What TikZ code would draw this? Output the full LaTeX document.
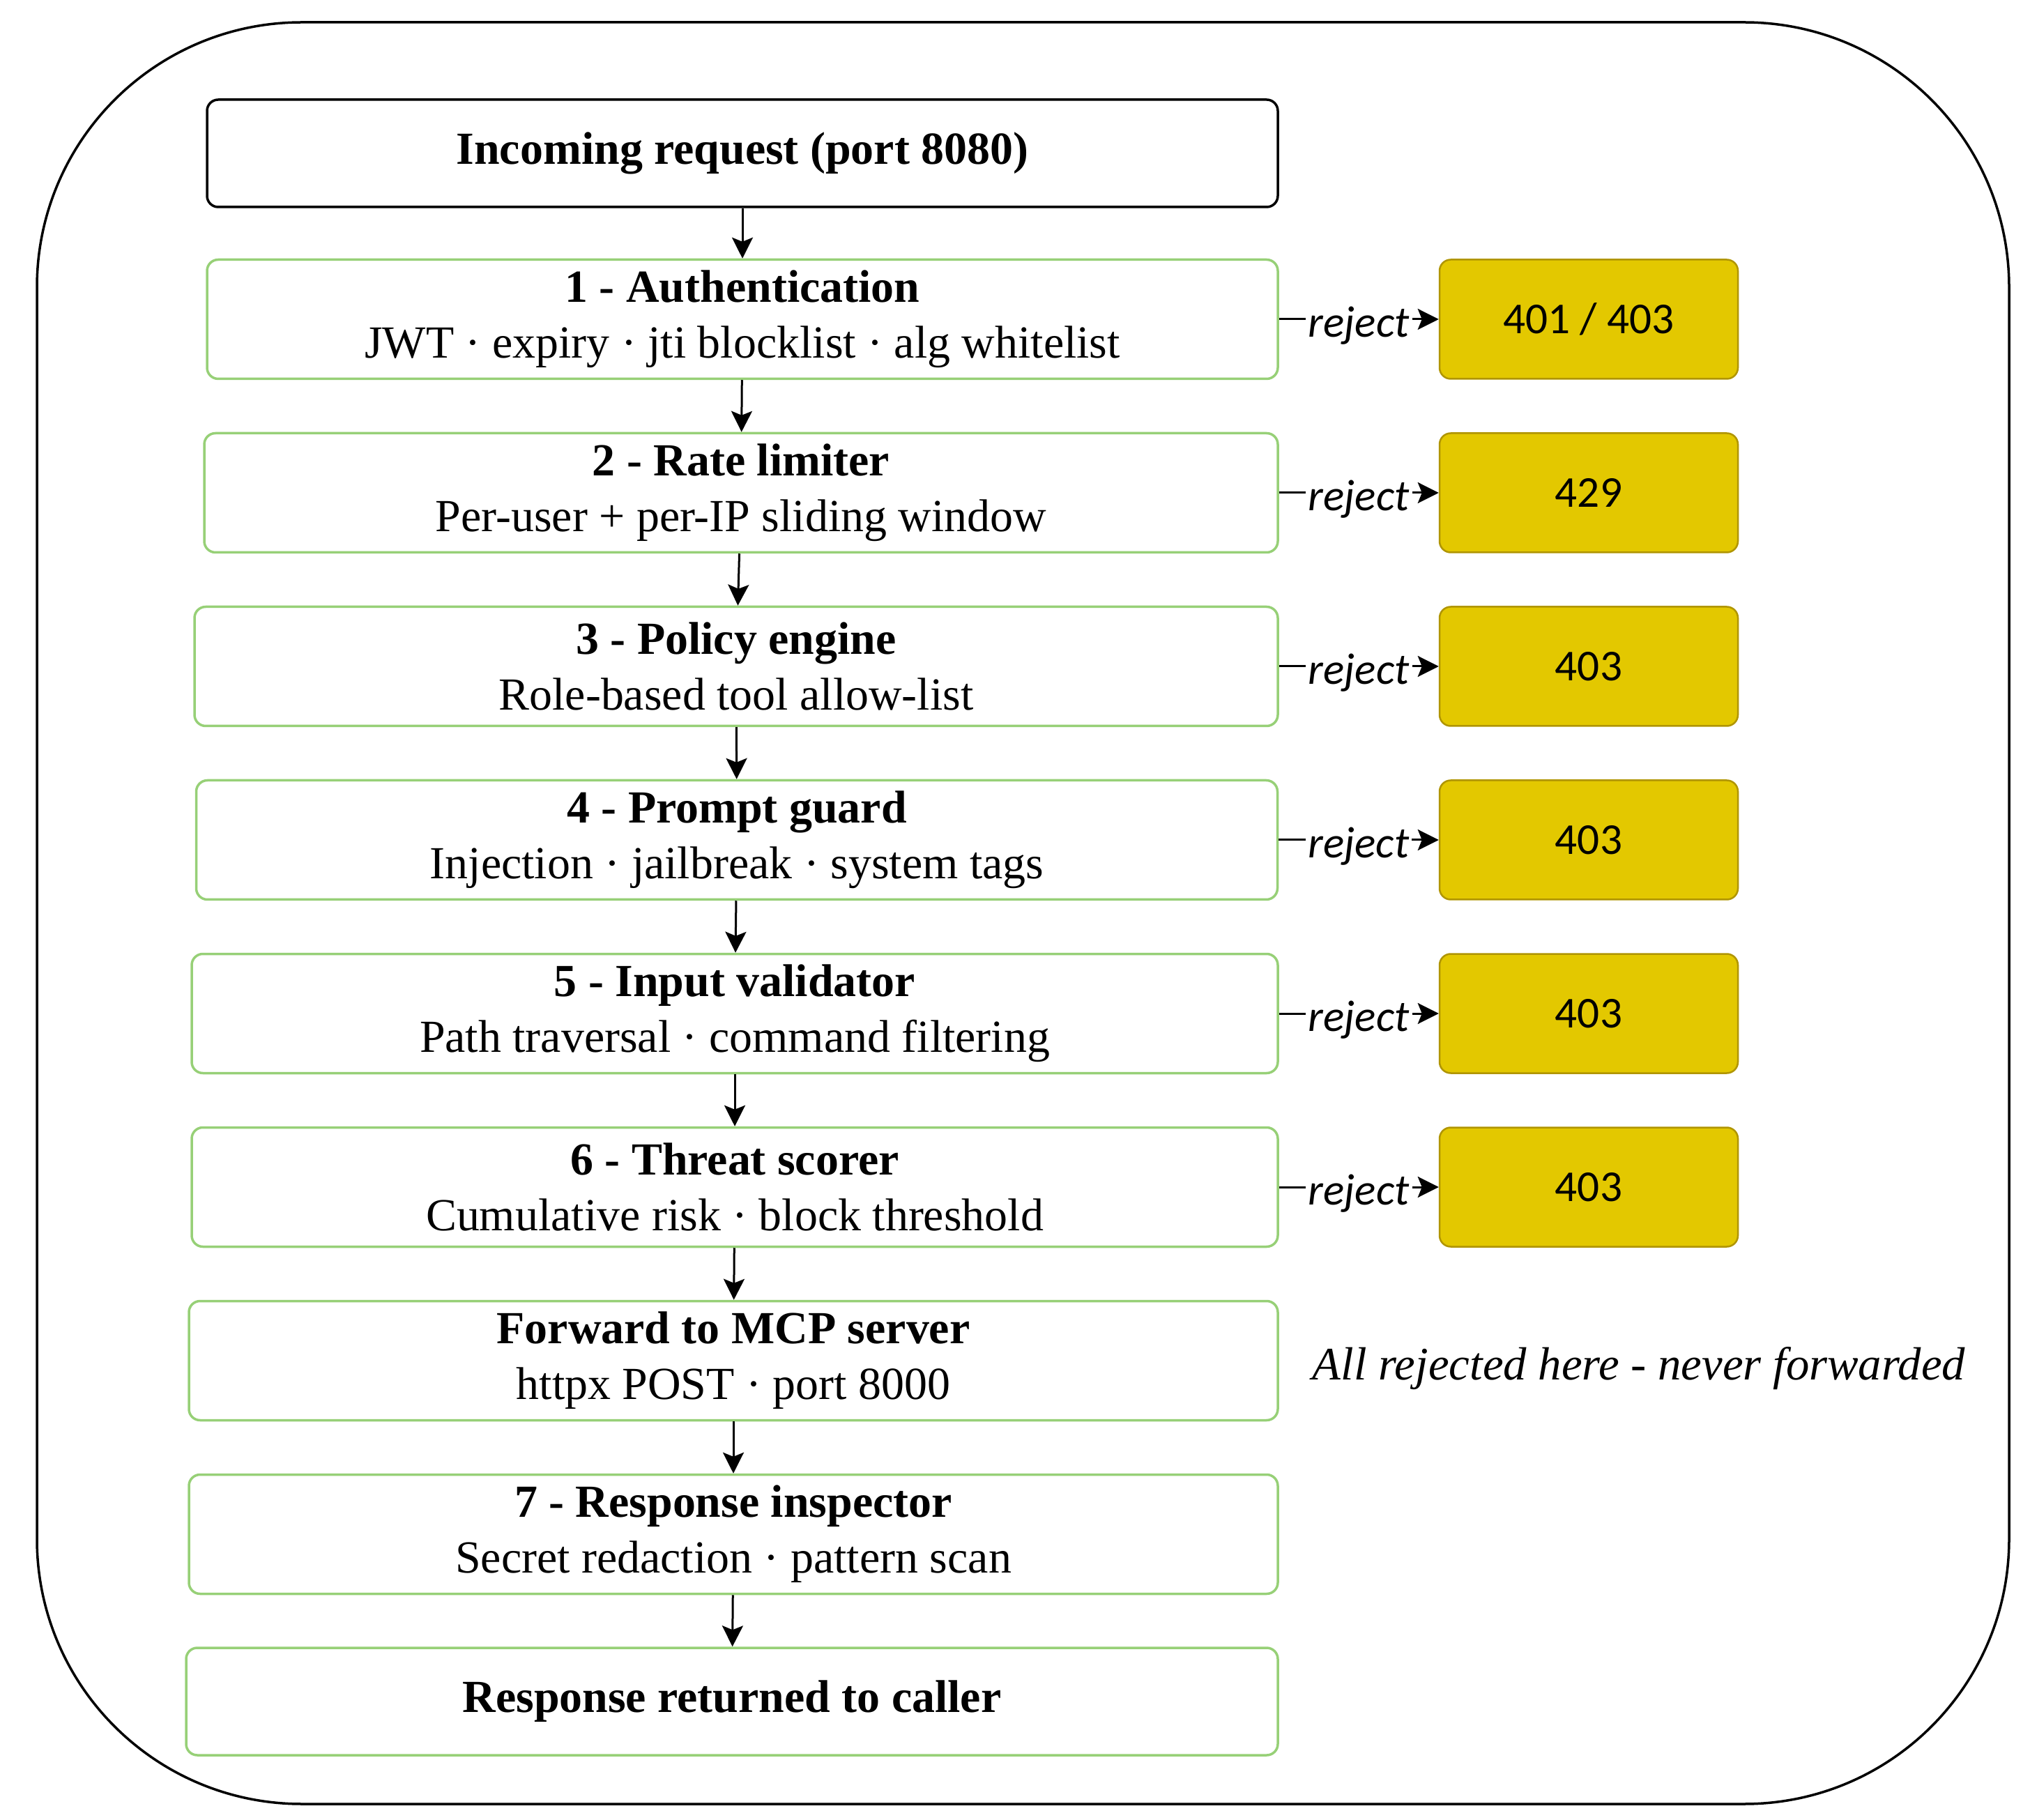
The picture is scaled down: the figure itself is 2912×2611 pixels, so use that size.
\documentclass[tikz,border=0pt]{standalone}
\usepackage{fontspec}
\setmainfont{Liberation Serif}
\newfontfamily\labelfont{Carlito}
\usetikzlibrary{arrows.meta}

\definecolor{stagegreen}{HTML}{97D077}
\definecolor{codefill}{HTML}{E3C800}
\definecolor{codeline}{HTML}{B09500}

\begin{document}
\begin{tikzpicture}[x=0.1mm,y=-0.1mm]
\tikzset{
  stagebox/.style={rectangle,rounded corners=1.6mm,draw=stagegreen,line width=0.35mm,fill=white,minimum height=17.1mm,inner sep=0pt,align=center,font=\fontsize{18.75}{22.8}\selectfont},
  endbox/.style={stagebox,minimum height=15.4mm,font=\bfseries\fontsize{18.75}{22.8}\selectfont},
  codebox/.style={rectangle,rounded corners=1.6mm,draw=codeline,fill=codefill,line width=0.25mm,minimum width=42.8mm,minimum height=17.1mm,inner sep=0pt,font=\labelfont\fontsize{18}{21.6}\selectfont},
  flowedge/.style={draw=black,line width=0.3mm,-{Stealth[length=3mm,width=3mm,inset=0.6mm]}},
  rejectlabel/.style={fill=white,inner sep=0.4mm,yshift=-0.9mm,font=\labelfont\itshape\fontsize{18}{21.6}\selectfont}
}
\useasboundingbox (0,0) rectangle (2912,2611);
\draw[line width=0.35mm,rounded corners=38mm] (53,32) rectangle (2882,2588);
\node[endbox,draw=black,minimum width=153.6mm] (n_in) at (1065,220) {Incoming request (port 8080)};
\node[stagebox,minimum width=153.6mm] (n_auth) at (1065,458) {\textbf{1 - Authentication}\\JWT · expiry · jti blocklist · alg whitelist};
\node[stagebox,minimum width=154.0mm] (n_rate) at (1063,707) {\textbf{2 - Rate limiter}\\Per-user + per-IP sliding window};
\node[stagebox,minimum width=155.4mm] (n_policy) at (1056,956) {\textbf{3 - Policy engine}\\Role-based tool allow-list};
\node[stagebox,minimum width=155.1mm] (n_prompt) at (1057,1205) {\textbf{4 - Prompt guard}\\Injection · jailbreak · system tags};
\node[stagebox,minimum width=155.8mm] (n_input) at (1054,1454) {\textbf{5 - Input validator}\\Path traversal · command filtering};
\node[stagebox,minimum width=155.8mm] (n_threat) at (1054,1703) {\textbf{6 - Threat scorer}\\Cumulative risk · block threshold};
\node[stagebox,minimum width=156.2mm] (n_fwd) at (1052,1952) {\textbf{Forward to MCP server}\\httpx POST · port 8000};
\node[stagebox,minimum width=156.2mm] (n_inspect) at (1052,2201) {\textbf{7 - Response inspector}\\Secret redaction · pattern scan};
\node[endbox,minimum width=156.6mm] (n_out) at (1050,2441) {Response returned to caller};
\node[codebox] (n_c1) at (2279,458) {401 / 403};
\node[codebox] (n_c2) at (2279,707) {429};
\node[codebox] (n_c3) at (2279,956) {403};
\node[codebox] (n_c4) at (2279,1205) {403};
\node[codebox] (n_c5) at (2279,1454) {403};
\node[codebox] (n_c6) at (2279,1703) {403};
\node[font=\itshape\fontsize{19}{22.8}\selectfont] (n_note) at (2351,1963) {All rejected here - never forwarded};
\draw[flowedge] (n_in) -- (n_auth);
\draw[flowedge] (n_auth) -- (n_rate);
\draw[flowedge] (n_rate) -- (n_policy);
\draw[flowedge] (n_policy) -- (n_prompt);
\draw[flowedge] (n_prompt) -- (n_input);
\draw[flowedge] (n_input) -- (n_threat);
\draw[flowedge] (n_threat) -- (n_fwd);
\draw[flowedge] (n_fwd) -- (n_inspect);
\draw[flowedge] (n_inspect) -- (n_out);
\draw[flowedge] (n_auth) -- node[rejectlabel] {reject} (n_c1);
\draw[flowedge] (n_rate) -- node[rejectlabel] {reject} (n_c2);
\draw[flowedge] (n_policy) -- node[rejectlabel] {reject} (n_c3);
\draw[flowedge] (n_prompt) -- node[rejectlabel] {reject} (n_c4);
\draw[flowedge] (n_input) -- node[rejectlabel] {reject} (n_c5);
\draw[flowedge] (n_threat) -- node[rejectlabel] {reject} (n_c6);
\end{tikzpicture}
\end{document}
